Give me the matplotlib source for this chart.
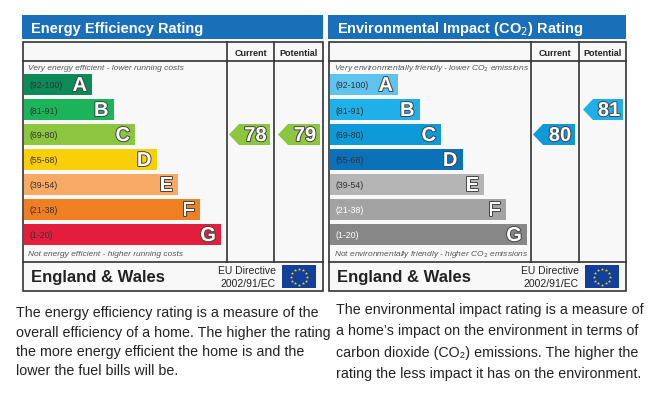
import numpy as np
import matplotlib
matplotlib.use("Agg")
from matplotlib import pyplot as plt
from matplotlib.patches import Rectangle, Polygon
import matplotlib.patheffects as pe

plt.rcParams['font.family'] = ['Liberation Sans', 'DejaVu Sans']

# band data
bands = ["A", "B", "C", "D", "E", "F", "G"]
ranges = ["(92-100)", "(81-91)", "(69-80)", "(55-68)", "(39-54)", "(21-38)", "(1-20)"]
band_low = [92, 81, 69, 55, 39, 21, 1]

ee_colors = ["#0c8a57", "#1bb45a", "#8cc63f", "#f9cf0a", "#f8aa65", "#f07f23", "#e31d3c"]
ei_colors = ["#5ec3ee", "#1fb0ea", "#0e9ad9", "#0b71b9", "#b5b5b5", "#a3a3a3", "#878787"]

ee_current, ee_potential = 78, 79
ei_current, ei_potential = 80, 81

ee_text = ["The energy efficiency rating is a measure of the",
           "overall efficiency of a home. The higher the rating",
           "the more energy efficient the home is and the",
           "lower the fuel bills will be."]
ei_text = ["The environmental impact rating is a measure of",
           "a home\u2019s impact on the environment in terms of",
           "carbon dioxide (CO\u2082) emissions. The higher the",
           "rating the less impact it has on the environment."]

fig = plt.figure(figsize=(6.56, 4.02), dpi=100)
ax = fig.add_axes([0, 0, 1, 1])
ax.set_xlim(0, 656)
ax.set_ylim(402, 0)
ax.axis('off')

outline = [pe.withStroke(linewidth=1.4, foreground="#444444")]


def band_index(v):
    for i, lo in enumerate(band_low):
        if v >= lo:
            return i
    return len(band_low) - 1


def arrow(x0, x1, i, value, color):
    y0 = 75 + 25 * i
    h = 21
    tip = 10
    pts = [(x0, y0 + h / 2), (x0 + tip, y0), (x1, y0), (x1, y0 + h), (x0 + tip, y0 + h)]
    ax.add_patch(Polygon(pts, closed=True, color=color, lw=0))
    ax.text((x0 + tip + x1) / 2 + 1, y0 + h / 2 + 1, str(value), color="white",
            fontsize=14.5, fontweight='bold', ha='center', va='center', path_effects=outline)


def panel(x0, x1, c1, c2, title, top_txt, bot_txt, colors, cur, pot, light_range):
    # title bar
    ax.add_patch(Rectangle((x0 - 1, 16), x1 - x0 + 1, 24, color="#1a6fba", lw=0))
    ax.text(x0 + 8, 28.5, title, color="white", fontsize=10.5, fontweight='bold',
            va='center', ha='left')
    # table
    ax.add_patch(Rectangle((x0, 43), x1 - x0, 249, facecolor="#f8f8f8",
                           edgecolor="#333333", lw=1.2))
    ax.plot([x0, x1], [62, 62], color="#333333", lw=1.2)
    ax.plot([x0, x1], [263, 263], color="#333333", lw=1.2)
    for c in (c1, c2):
        ax.plot([c, c], [43, 263], color="#333333", lw=1.2)
    ax.text((c1 + c2) / 2, 53, "Current", fontsize=6.5, fontweight='bold',
            ha='center', va='center', color="#222222")
    ax.text((c2 + x1) / 2, 53, "Potential", fontsize=6.5, fontweight='bold',
            ha='center', va='center', color="#222222")
    ax.text(x0 + 5, 69, top_txt, fontsize=6, style='italic', color="#555555",
            ha='left', va='center')
    ax.text(x0 + 5, 255, bot_txt, fontsize=6, style='italic', color="#555555",
            ha='left', va='center')
    # bars
    widths = [68 + 21.5 * i for i in range(len(bands))]
    ys = [75 + 25 * i + 10.5 for i in range(len(bands))]
    ax.barh(ys, widths, height=21, left=x0 + 1, color=colors, lw=0)
    for i, (b, r) in enumerate(zip(bands, ranges)):
        rc = "white" if i in light_range else "#333333"
        ax.text(x0 + 6, ys[i] + 0.5, r, fontsize=6.3, color=rc, ha='left', va='center')
        ax.text(x0 + 1 + widths[i] - 5, ys[i] + 1, b, fontsize=14.5, fontweight='bold',
                color="white", ha='right', va='center', path_effects=outline)
    # arrows
    arrow(c1 + 2, c2 - 4, band_index(cur), cur, colors[band_index(cur)])
    arrow(c2 + 4, x1 - 3, band_index(pot), pot, colors[band_index(pot)])
    # footer
    ax.text(x0 + 8, 277.5, "England & Wales", fontsize=12, fontweight='bold',
            color="#222222", ha='left', va='center')
    ax.text(x1 - 47, 271, "EU Directive", fontsize=7.5, color="#222222",
            ha='right', va='center')
    ax.text(x1 - 47, 284.5, "2002/91/EC", fontsize=7.5, color="#222222",
            ha='right', va='center')
    fx0, fx1, fy0, fy1 = x1 - 41, x1 - 7, 266, 289
    ax.add_patch(Rectangle((fx0, fy0), fx1 - fx0, fy1 - fy0, color="#123e9c", lw=0))
    ang = np.linspace(0, 2 * np.pi, 13)[:-1]
    cx, cy = (fx0 + fx1) / 2, (fy0 + fy1) / 2
    ax.scatter(cx + 8 * np.cos(ang), cy + 8 * np.sin(ang), s=6, color="#f5d000",
               marker='*', lw=0)


panel(23, 323, 227, 274, "Energy Efficiency Rating",
      "Very energy efficient - lower running costs",
      "Not energy efficient - higher running costs",
      ee_colors, ee_current, ee_potential, [])
panel(329, 626, 531, 579, "Environmental Impact (CO$_2$) Rating",
      "Very environmentally friendly - lower CO$_2$ emissions",
      "Not environmentally friendly - higher CO$_2$ emissions",
      ei_colors, ei_current, ei_potential, [5, 6])

for k, line in enumerate(ee_text):
    ax.text(16, [313, 333, 352, 371][k], line, fontsize=10.3, color="#222222",
            ha='left', va='center')
for k, line in enumerate(ei_text):
    ax.text(336, [310, 331, 353, 374][k], line, fontsize=10.3, color="#222222",
            ha='left', va='center')

fig.savefig("out.png", dpi=100, facecolor="white")
